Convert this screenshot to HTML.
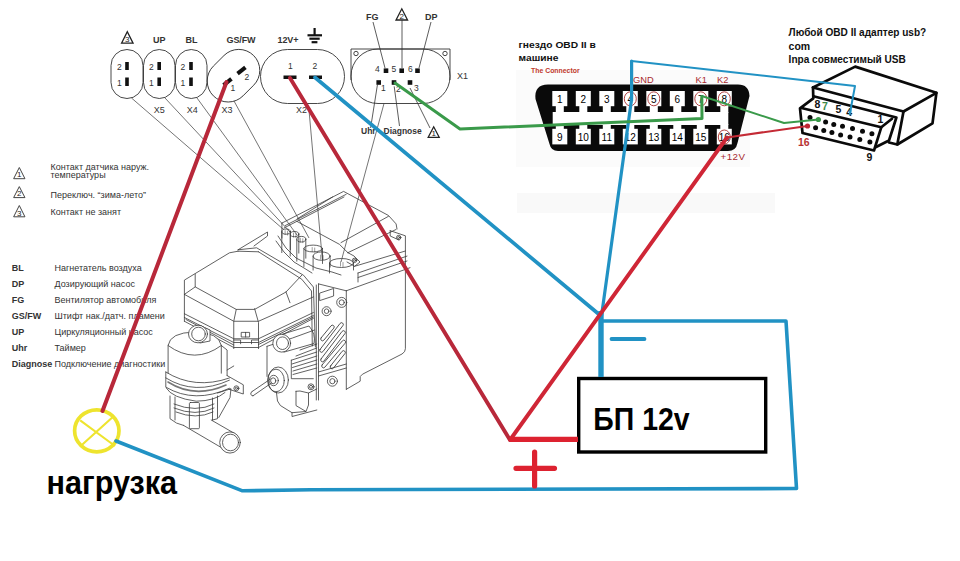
<!DOCTYPE html>
<html><head><meta charset="utf-8">
<style>
html,body{margin:0;padding:0;background:#fff;width:960px;height:561px;overflow:hidden}
svg{position:absolute;left:0;top:0}
text{font-family:"Liberation Sans",sans-serif}
</style></head><body>
<svg width="960" height="561" viewBox="0 0 960 561">
<rect width="960" height="561" fill="#fff"/>
<g fill="none" stroke="#333" stroke-width="0.9">
<rect x="111" y="49.5" width="32" height="49" rx="16" ry="16"/>
<rect x="143.5" y="49.5" width="31.5" height="49" rx="15.75" ry="16"/>
<rect x="175.5" y="49.5" width="31.5" height="49" rx="15.75" ry="16"/>
<rect x="205" y="54.7" width="57" height="42" rx="21" ry="21" transform="rotate(-45 233.5 75.7)"/>
<rect x="260.5" y="49.5" width="84" height="54" rx="27" ry="27"/>
<path d="M351,80 V49 H450 V80"/>
<rect x="351" y="49" width="99" height="54.5" rx="27" ry="27"/>
<circle cx="356" cy="53.5" r="2.2"/><circle cx="445" cy="53.5" r="2.2"/>
</g>
<g fill="#111">
<rect x="125.2" y="62" width="3.6" height="8"/>
<rect x="125.2" y="77.5" width="3.6" height="8.5"/>
<rect x="157.39999999999998" y="62" width="3.6" height="8"/>
<rect x="157.39999999999998" y="77.5" width="3.6" height="8.5"/>
<rect x="189.2" y="62" width="3.6" height="8"/>
<rect x="189.2" y="77.5" width="3.6" height="8.5"/>
</g>
<g font-size="8.5" fill="#333">
<text x="117" y="70">2</text><text x="117" y="85.5">1</text>
<text x="149" y="70">2</text><text x="149" y="85.5">1</text>
<text x="180.5" y="70">2</text><text x="180.5" y="85.5">1</text>
</g>
<g fill="#111">
<rect x="-5" y="-2" width="10" height="4" transform="translate(241.5 70.5) rotate(-38)"/>
<rect x="-5" y="-2" width="10" height="4" transform="translate(227.5 82) rotate(-38)"/>
</g>
<g font-size="8.5" fill="#333"><text x="244.5" y="80">2</text><text x="230.5" y="91">1</text></g>
<g fill="#111"><rect x="283.5" y="75.5" width="13" height="3.5"/><rect x="309" y="75.5" width="13" height="3.5"/></g>
<g font-size="8.5" fill="#333"><text x="288" y="69">1</text><text x="312.5" y="69">2</text></g>
<g fill="#111">
<rect x="383.7" y="68.4" width="4.6" height="4.6"/>
<rect x="399.4" y="68.4" width="4.6" height="4.6"/>
<rect x="415.2" y="68.4" width="4.6" height="4.6"/>
<rect x="376.4" y="80.2" width="4.6" height="4.6"/>
<rect x="391.7" y="80.2" width="4.6" height="4.6"/>
<rect x="407.7" y="80.2" width="4.6" height="4.6"/>
</g>
<g font-size="8.5" fill="#333">
<text x="375" y="72.3">4</text><text x="391.5" y="72.3">5</text><text x="408" y="72.3">6</text>
<text x="381" y="91.2">1</text><text x="396" y="91.5">2</text><text x="414" y="91.2">3</text>
<text x="457" y="78.6" font-size="9">X1</text>
<text x="153.8" y="113.3" font-size="9">X5</text><text x="186.8" y="113.3" font-size="9">X4</text><text x="221.5" y="113.3" font-size="9">X3</text><text x="296" y="113" font-size="9">X2</text>
</g>
<g font-size="9" font-weight="bold" fill="#333">
<text x="153" y="43.2">UP</text><text x="185.5" y="43.2">BL</text><text x="226.5" y="43.2" textLength="29">GS/FW</text><text x="277.5" y="43.2" textLength="21">12V+</text>
</g>
<g font-size="9" fill="#333"><text x="366" y="19.5" font-weight="bold">FG</text><text x="425" y="19.5" font-weight="bold">DP</text><text x="361" y="133.5" font-weight="bold" font-size="8.5">Uhr</text><text x="383.5" y="133.5" font-weight="bold" font-size="8.5">Diagnose</text></g>
<path d="M121.55,43.2 L127.3,31.700000000000003 L133.05,43.2 Z" fill="none" stroke="#222" stroke-width="1.3"/><text x="127.3" y="41.900000000000006" font-size="8" fill="#222" text-anchor="middle">3</text>
<path d="M396.05,20 L401.8,8.8 L407.55,20 Z" fill="none" stroke="#222" stroke-width="1.3"/><text x="401.8" y="18.7" font-size="8" fill="#222" text-anchor="middle">2</text>
<path d="M428.2,137.3 L433.7,126.80000000000001 L439.2,137.3 Z" fill="none" stroke="#222" stroke-width="1.3"/><text x="433.7" y="136.0" font-size="8" fill="#222" text-anchor="middle">1</text>
<g stroke="#111" stroke-width="2.2"><path d="M314.6,28 V35.3"/><path d="M307.5,35.3 H322"/><path d="M309.4,38.7 H319.7"/><path d="M311.6,42.2 H317.4"/></g>
<g stroke="#333" stroke-width="0.8" fill="none">
<path d="M373,22 L385,68"/><path d="M402,20 V68"/><path d="M431,22 L419,68"/>
<path d="M377.5,84.3 L370.6,128"/><path d="M394.2,86.4 L399.5,126"/><path d="M410,88 L430,128"/>
</g>
<g stroke="#3a3a3a" stroke-width="0.7" fill="none">
<path d="M131.5,98 L283,229"/><path d="M165,98 L290,232"/><path d="M197,98 L297,235"/><path d="M234,101 L309,238"/>
<path d="M308.8,108 L322.4,260"/><path d="M384,103.5 L341,262"/>
</g>
<g font-size="9" fill="#333">
<text x="50.6" y="170">Контакт датчика наруж.</text>
<text x="50.6" y="178.3">температуры</text>
<text x="50.6" y="197.8">Переключ. “зима-лето”</text>
<text x="50.6" y="214.8">Контакт не занят</text>
</g>
<path d="M13.65,178.7 L19.3,167.5 L24.950000000000003,178.7 Z" fill="none" stroke="#444" stroke-width="1.0"/><text x="19.3" y="177.39999999999998" font-size="8" fill="#222" text-anchor="middle">1</text>
<path d="M13.65,197.6 L19.3,186.6 L24.950000000000003,197.6 Z" fill="none" stroke="#444" stroke-width="1.0"/><text x="19.3" y="196.29999999999998" font-size="8" fill="#222" text-anchor="middle">2</text>
<path d="M13.65,216.8 L19.3,205.5 L24.950000000000003,216.8 Z" fill="none" stroke="#444" stroke-width="1.0"/><text x="19.3" y="215.5" font-size="8" fill="#222" text-anchor="middle">3</text>
<g font-size="9" fill="#333">
<text x="11.8" y="270.6" font-weight="bold">BL</text><text x="54.5" y="270.6">Нагнетатель воздуха</text>
<text x="11.8" y="286.7" font-weight="bold">DP</text><text x="54.5" y="286.7">Дозирующий насос</text>
<text x="11.8" y="302.8" font-weight="bold">FG</text><text x="54.5" y="302.8">Вентилятор автомобиля</text>
<text x="11.8" y="318.9" font-weight="bold">GS/FW</text><text x="54.5" y="318.9">Штифт нак./датч. пламени</text>
<text x="11.8" y="335.0" font-weight="bold">UP</text><text x="54.5" y="335.0">Циркуляционный насос</text>
<text x="11.8" y="351.1" font-weight="bold">Uhr</text><text x="54.5" y="351.1">Таймер</text>
<text x="11.8" y="367.2" font-weight="bold">Diagnose</text><text x="54.5" y="367.2">Подключение диагностики</text>
</g>
<rect x="516" y="70" width="234" height="97" fill="#fbfbfb"/>
<rect x="517" y="193" width="258" height="20" fill="#f9f9f9"/>
<g font-weight="bold" fill="#111" font-size="9.8" transform="translate(518.6 0) scale(1.045 1) translate(-518.6 0)"><text x="518.6" y="47.9">гнездо OBD II в</text><text x="518.6" y="61.3">машине</text></g>
<text x="531" y="72.8" font-size="6.9" font-weight="bold" fill="#c0392b">The Connector</text>
<path d="M548,84.5 H738 Q749,84.5 749.5,96 L737.5,143 Q736,151 728,151 H558 Q551,151 549.5,144 L535.5,99 Q534,84.5 548,84.5 Z" fill="#0a0a0a"/>
<g fill="#fff">
<rect x="556" y="112" width="172.3" height="13"/>
<rect x="552.7" y="112" width="6" height="13"/>
<rect x="552.3" y="91" width="15" height="15.2"/>
<rect x="555.8" y="105" width="8" height="8"/>
<rect x="552.3" y="128.8" width="15" height="15.6"/>
<rect x="555.8" y="124" width="8" height="6"/>
<rect x="575.8" y="91" width="15" height="15.2"/>
<rect x="579.3" y="105" width="8" height="8"/>
<rect x="575.8" y="128.8" width="15" height="15.6"/>
<rect x="579.3" y="124" width="8" height="6"/>
<rect x="599.3" y="91" width="15" height="15.2"/>
<rect x="602.8" y="105" width="8" height="8"/>
<rect x="599.3" y="128.8" width="15" height="15.6"/>
<rect x="602.8" y="124" width="8" height="6"/>
<rect x="622.8" y="91" width="15" height="15.2"/>
<rect x="626.3" y="105" width="8" height="8"/>
<rect x="622.8" y="128.8" width="15" height="15.6"/>
<rect x="626.3" y="124" width="8" height="6"/>
<rect x="646.3" y="91" width="15" height="15.2"/>
<rect x="649.8" y="105" width="8" height="8"/>
<rect x="646.3" y="128.8" width="15" height="15.6"/>
<rect x="649.8" y="124" width="8" height="6"/>
<rect x="669.8" y="91" width="15" height="15.2"/>
<rect x="673.3" y="105" width="8" height="8"/>
<rect x="669.8" y="128.8" width="15" height="15.6"/>
<rect x="673.3" y="124" width="8" height="6"/>
<rect x="693.3" y="91" width="15" height="15.2"/>
<rect x="696.8" y="105" width="8" height="8"/>
<rect x="693.3" y="128.8" width="15" height="15.6"/>
<rect x="696.8" y="124" width="8" height="6"/>
<rect x="716.8" y="91" width="15" height="15.2"/>
<rect x="720.3" y="105" width="8" height="8"/>
<rect x="716.8" y="128.8" width="15" height="15.6"/>
<rect x="720.3" y="124" width="8" height="6"/>
</g>
<g font-size="10" fill="#000" text-anchor="middle">
<text x="559.8" y="102.6">1</text>
<text x="559.8" y="140.8">9</text>
<text x="583.3" y="102.6">2</text>
<text x="583.3" y="140.8">10</text>
<text x="606.8" y="102.6">3</text>
<text x="606.8" y="140.8">11</text>
<text x="630.3" y="102.6">4</text>
<text x="630.3" y="140.8">12</text>
<text x="653.8" y="102.6">5</text>
<text x="653.8" y="140.8">13</text>
<text x="677.3" y="102.6">6</text>
<text x="677.3" y="140.8">14</text>
<text x="700.8" y="102.6">7</text>
<text x="700.8" y="140.8">15</text>
<text x="724.3" y="102.6">8</text>
<text x="724.3" y="140.8">16</text>
</g>
<g fill="none" stroke="#a83030" stroke-width="0.9">
<ellipse cx="630.3" cy="98.8" rx="6" ry="7"/>
<ellipse cx="653.8" cy="98.8" rx="6" ry="7"/>
<ellipse cx="700.8" cy="98.8" rx="6" ry="7"/>
<ellipse cx="724.3" cy="98.8" rx="6" ry="7"/>
<ellipse cx="724.3" cy="137" rx="6" ry="7"/>
</g>
<g font-size="9.3" fill="#a82a2e"><text x="633" y="83">GND</text><text x="695.5" y="82.8">K1</text><text x="717" y="82.8">K2</text><text x="720.5" y="159.8" font-size="9.8" textLength="24.5">+12V</text></g>
<g font-weight="bold" fill="#111" font-size="10.5">
<text x="788.6" y="35.8" transform="translate(788.6 0) scale(0.96 1) translate(-788.6 0)">Любой OBD II адаптер usb?</text>
<text x="788.6" y="49.8">com</text>
<text x="788.6" y="63.4" transform="translate(788.6 0) scale(0.96 1) translate(-788.6 0)">Inpa совместимый USB</text>
</g>
<g fill="none" stroke="#0a0a0a" stroke-width="2.7" stroke-linejoin="round" stroke-linecap="round">
<path d="M813,87.5 L855.2,66.6 L936.4,92.8 L932.5,123.4 L897.3,144.5 L889,142.5"/>
<path d="M813,87.5 L903.5,111.5 L936.4,92.8"/>
<path d="M903.5,111.5 L897.3,144.5"/>
<path d="M813,87.5 L813.3,98.3 L800,108.3 L802.5,133 L874,150.5 L881.25,127.3 L802.5,108.3"/>
<path d="M881.25,127.3 L892,118.8"/>
<path d="M814.4,96.5 L896.4,117.5 L889,140.5 L876,147"/>
</g>
<g fill="#0a0a0a">
<circle cx="810" cy="117.5" r="2.5"/>
<circle cx="825.6" cy="121.9" r="2.5"/>
<circle cx="833.75" cy="124.4" r="2.5"/>
<circle cx="842.5" cy="126.25" r="2.5"/>
<circle cx="852.5" cy="128.5" r="2.5"/>
<circle cx="862.5" cy="131.25" r="2.5"/>
<circle cx="871.9" cy="133.75" r="2.5"/>
<circle cx="815.6" cy="127.75" r="2.5"/>
<circle cx="823.75" cy="130.6" r="2.5"/>
<circle cx="831.9" cy="132.5" r="2.5"/>
<circle cx="840.6" cy="135" r="2.5"/>
<circle cx="850" cy="136.9" r="2.5"/>
<circle cx="859.8" cy="139.4" r="2.5"/>
<circle cx="869.9" cy="142" r="2.5"/>
</g>
<g font-weight="bold" font-size="10.5">
<text x="814.5" y="107.6" fill="#111">8</text><text x="822" y="109.5" fill="#3a8a4a">7</text><text x="835.5" y="113.4" fill="#111">5</text><text x="846.2" y="116.3" fill="#111">4</text><text x="877.5" y="123.3" fill="#111">1</text>
<text x="798" y="146" fill="#b83232">16</text><text x="866.5" y="160.6" fill="#111">9</text>
</g>
<g fill="none" stroke="#3a3a3a" stroke-width="0.8" stroke-linejoin="round" stroke-linecap="round">
<path d="M184.4,321.3 V280.1 L229.5,252.8 L238.1,251.2"/>
<path d="M195.2,274.2 V286.9 L236.25,309.4 H254.6 L286,292 L301.7,275.3"/>
<path d="M184.4,294.4 L195.2,286.9 M184.4,294.4 L233.75,321.25 H258.5 L313.4,296.9"/>
<path d="M236.25,309.4 L233.75,321.25 V348.6 M254.6,308.6 L258.5,322.4 V348.6 M286,292 L290,302.7"/>
<path d="M184.4,313.75 L233.75,338.75 H258.5 L313.4,312.5"/>
<path d="M184.4,317.5 L233.75,342.5 H258.5 L313.4,315.5"/>
<path d="M184.4,321.25 L233.75,347.5 H258.5 L313.4,318.4"/>
<path d="M186,319.5 L233.75,345 M258.5,344.5 L313.4,317"/>
<rect x="241.6" y="332.4" width="8" height="4.6"/><path d="M245.6,332.4 V337"/>
<path d="M233.75,340 H240.6 V343.75 M251.5,343.75 V340 H258.5"/>
<path d="M238,249.8 L256.6,247.8 L303.6,275.3 L313.4,287 L315.4,346.9"/>
<path d="M258.5,251.8 L301.7,279.2 L311.5,291 L312.3,346"/>
<path d="M238,249.8 L267.5,232 V236 L254,246"/>
<path d="M238.1,251.2 L258.5,251.8"/>
<path d="M281.9,223.1 L343.6,191.4 L388.5,215.5 L396.1,223.9 L397,229"/>
<path d="M285.2,225.6 L346.2,194.3 M297.1,218.9 L332.6,196.9 M284,228 L344,197"/>
<path d="M281.9,223.1 V238"/>
<path d="M297,221.4 L339.4,244.3 L347.9,252.7 M341,242.6 L388.5,216.3 M347.9,252.7 L396,229.5"/>
<path d="M390.2,230.7 L405.4,235.8 V348.7 Q405.4,352 402,354 L362.5,374.2 L360.2,376.5 V381.2 L346.3,389.3"/>
<path d="M390.2,230.7 V236 L399,240"/>
<circle cx="398.7" cy="237.5" r="2.2"/><circle cx="398.7" cy="237.5" r="1"/>
<path d="M347.9,252.7 L354,256 L360,262 L354.6,266.3 L347,262"/>
<circle cx="354.6" cy="260.3" r="2.2"/><circle cx="354.6" cy="260.3" r="1"/>
<path d="M354.6,266.3 L405.4,251 M358,273 L407,256.1 M358,277.5 L407,261 M358,273 V282"/>
<path d="M346.3,290.8 L410,267.7"/>
<ellipse cx="286.1" cy="231.6" rx="4.3" ry="2.6"/>
<path d="M281.8,231.6 V252.6 M290.40000000000003,231.6 V249.6"/>
<path d="M285.1,230.6 V234.6 M287.6,231.1 V235.1" stroke-width="0.5"/>
<ellipse cx="294.5" cy="234.1" rx="4.3" ry="2.6"/>
<path d="M290.2,234.1 V256.1 M298.8,234.1 V253.10000000000002"/>
<path d="M293.5,233.1 V237.1 M296.0,233.6 V237.6" stroke-width="0.5"/>
<ellipse cx="301.3" cy="239.2" rx="4.5" ry="2.8"/>
<path d="M296.8,239.2 V261.2 M305.8,239.2 V258.2"/>
<path d="M300.3,238.2 V242.2 M302.8,238.7 V242.7" stroke-width="0.5"/>
<ellipse cx="313.2" cy="248.5" rx="9.3" ry="3.4"/>
<path d="M303.9,248.5 V266.5 M322.5,248.5 V263.5"/>
<path d="M312.2,247.5 V251.5 M314.7,248.0 V252.0" stroke-width="0.5"/>
<ellipse cx="321.6" cy="256.1" rx="8.5" ry="4.2"/>
<path d="M313.1,256.1 V270.1 M330.1,256.1 V267.1"/>
<path d="M320.6,255.10000000000002 V259.1 M323.1,255.60000000000002 V259.6" stroke-width="0.5"/>
<ellipse cx="341.5" cy="263" rx="12" ry="4.5"/>
<path d="M329.5,263 V273 M353.5,263 V270"/>
<path d="M340.5,262 V266 M343.0,262.5 V266.5" stroke-width="0.5"/>
<path d="M278,236 L286,248 L296,258 L306,263 L316,268 L332,272 L341,275"/>
<path d="M276,241 L284,252 L294,262 L304,268 L312,273"/>
<path d="M318.5,283.9 V400 M316.3,285 V400 M346.3,290.8 V389.3 M318.5,283.9 L346.3,290.8"/>
<path d="M320,293 L333.6,288.5 V296 L320,300.5 Z"/>
<circle cx="326.6" cy="311.2" r="4.5"/><circle cx="326.6" cy="311.2" r="2.3"/>
<circle cx="341.7" cy="302.4" r="5"/><circle cx="341.7" cy="302.4" r="2.6"/>
<circle cx="332.4" cy="381.2" r="5"/><circle cx="332.4" cy="381.2" r="2.6"/>
<rect x="317.87" y="331.20" width="19.16" height="3.6" rx="1.8" transform="rotate(-50.5 327.45 333.00)"/>
<rect x="313.30" y="335.70" width="36.40" height="3.6" rx="1.8" transform="rotate(-52.4 331.50 337.50)"/>
<rect x="313.90" y="344.45" width="38.20" height="3.6" rx="1.8" transform="rotate(-52.6 333.00 346.25)"/>
<rect x="316.13" y="352.20" width="35.03" height="3.6" rx="1.8" transform="rotate(-49.8 333.65 354.00)"/>
<rect x="326.70" y="357.95" width="22.11" height="3.6" rx="1.8" transform="rotate(-51.6 337.75 359.75)"/>
<path d="M318.5,372 L346.3,364 M318.5,376 L346.3,368"/>
<path d="M267,346.3 V376.4 M267,346.3 L292.5,338 L314.5,330"/>
<path d="M282,334.3 L309,326 Q316,334 314,343.5 L284,352.1"/>
<ellipse cx="281.7" cy="343.2" rx="8.9" ry="8.9" fill="#fff"/><ellipse cx="282.5" cy="343.2" rx="6" ry="6.3"/>
<path d="M291.3,360.2 L316.8,352 M292,364 L316.8,356 M292.5,367.5 L316.8,360 M293,371 L316.8,364 M293,374.5 L316.8,368 M291.3,360.2 V378.7 L313.3,378.7"/>
<path d="M296,356 L316.8,348 M300,350 L316.8,344"/>
<ellipse cx="278.2" cy="380" rx="10.2" ry="13"/><ellipse cx="276" cy="380.5" rx="8.3" ry="11.3"/><ellipse cx="273.7" cy="380.5" rx="4.6" ry="5.2"/><ellipse cx="273.2" cy="380.8" rx="2.6" ry="3"/>
<path d="M270.5,379 L252,391.6 M271.5,383 L253,395.8 M252,391.6 A2.2,2.2 0 0,0 253,395.8"/>
<path d="M276.4,392 L277.5,401 Q279,406 286,409 L292,412.7 L306,411.5 L308.5,405 V393 L300,391 L296,391.3 M296,391.3 V405.6 L306,411.5 M308.5,393 L316.8,389"/>
<circle cx="311" cy="386.8" r="3"/><circle cx="311" cy="386.8" r="1.5"/>
<path d="M292,412.7 V416.5 L316.8,410"/>
<path d="M168.1,373.2 V345.5 Q170,332.5 194.7,332 Q219,332.5 221.3,345.5 V373.2" fill="#fff"/>
<path d="M168.1,345.5 Q194.7,365 221.3,345.5"/>
<path d="M165.8,372 Q194.7,390 229.4,378 M165.8,377.9 Q194.7,396 229.4,380.2 M165.8,372 V387.1 Q194.7,404 229.4,388.3"/>
<path d="M168,382 Q194.7,399 226,385" stroke-width="1.6" stroke="#777"/>
<path d="M227.1,375.6 L243.3,384.8 V394 L229.4,389.4"/>
<circle cx="236.4" cy="388.3" r="2.5"/><circle cx="236.4" cy="388.3" r="1.1"/>
<path d="M166.2,388 Q172,398 196.2,401.2 Q215,401 225,392.5"/>
<path d="M170,396 V418.7 Q176,424 183.7,425.5 M217.5,396 V418.7 L212.5,420"/>
<rect x="189.4" y="402.5" width="10" height="26.2" rx="1"/>
<path d="M175,397 V420 M212.5,398 V420"/>
<path d="M174,404 Q196,413 214,404 M174,408 Q196,417 214,408 M176,412 Q196,420 213,412"/>
<path d="M217.5,393 L231,388.7 L230,397.5 L218.8,417.5"/>
<path d="M211.2,420 L235,433.7 M183.7,425.5 L221.2,447.5"/>
<ellipse cx="230" cy="442.5" rx="10.3" ry="10.6" fill="#fff"/><ellipse cx="230.5" cy="442.5" rx="8" ry="8.3"/>
<path d="M200,325.5 L210,330 V341 L200,343" fill="#fff"/>
<ellipse cx="198" cy="334" rx="9.5" ry="8.8" fill="#fff"/><ellipse cx="198.5" cy="334" rx="6.8" ry="6.8"/>
<path d="M221.3,345.5 L227.1,350 V375.6 M227.1,370 L233.75,366"/>
</g>
<rect x="578.7" y="378.5" width="187" height="73.5" fill="none" stroke="#000" stroke-width="3.4"/>
<text x="593.3" y="429.6" font-size="32" font-weight="bold" fill="#000" transform="translate(593.3 0) scale(0.89 1) translate(-593.3 0)">БП 12v</text>
<text x="46.5" y="494" font-size="32.5" font-weight="bold" fill="#000" transform="translate(46.5 0) scale(0.94 1) translate(-46.5 0)">нагрузка</text>
<g fill="none" stroke="#eee42e">
<ellipse cx="96.8" cy="430.8" rx="22.2" ry="21" stroke-width="3.7"/>
<path d="M80.2,420.3 L115,446 M113.9,416 L80.7,446" stroke-width="2.1"/>
</g>
<g fill="none" stroke="#2192c4" stroke-linejoin="round" stroke-linecap="round">
<path d="M315,77.5 L601,316" stroke-width="3.7"/>
<path d="M631.5,61 L855,86 L849.7,114.5" stroke-width="2"/>
<path d="M631.6,61 V99 L601.5,316" stroke-width="3.2"/>
<path d="M601,311 V377" stroke-width="5.4" stroke-linecap="butt"/>
<path d="M601,321 H786 L796.5,488.5 L311,489.8 L242.5,490.8 L116,441" stroke-width="3.6"/>
<path d="M611.5,339 H644.5" stroke-width="3.8"/>
</g>
<g fill="none" stroke="#bf2633" stroke-linejoin="round" stroke-linecap="round">
<path d="M226.5,82 L102.5,411" stroke-width="4" stroke="#b8283a"/>
<path d="M290,78 L510,440" stroke-width="3.9" stroke="#b8283a"/>
<path d="M510,440 L727,137.5" stroke-width="3.9" stroke="#cf2636"/>
<path d="M727,137.5 L807.5,126" stroke-width="2.2" stroke="#c42a35"/>
<path d="M510,439.4 H578" stroke-width="5.4" stroke-linecap="butt" stroke="#dd2230"/>
<path d="M516,468.3 H554.5 M534.6,452 V486" stroke-width="5.2" stroke="#dd2230"/>
</g>
<circle cx="807.5" cy="126" r="2.6" fill="#bf2633"/>
<g fill="none" stroke="#3a9a4a" stroke-linejoin="round" stroke-linecap="round">
<path d="M395,83 L460,129 L702,118.6 L701.8,96.5" stroke-width="3"/>
<path d="M701.8,96 L784,123 L818.4,119.5" stroke-width="2"/>
</g>
<circle cx="818.4" cy="119.5" r="2.6" fill="#3a9a4a"/>
</svg></body></html>
